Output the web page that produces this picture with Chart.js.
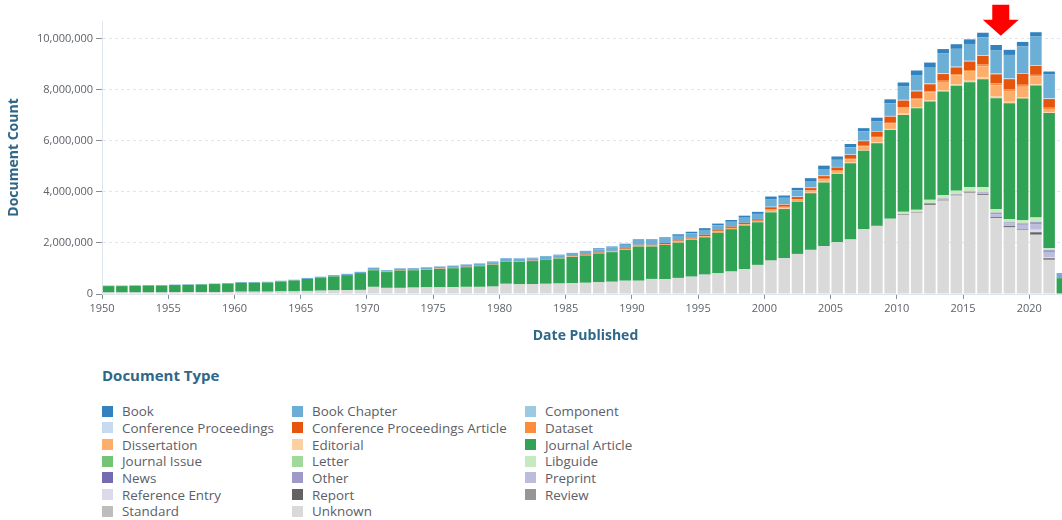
<!DOCTYPE html>
<html>
<head>
    <title>Document Count by Date Published</title>
    <script src="https://cdn.jsdelivr.net/npm/chart.js"></script>
    <style>
        body {
            margin: 0;
            overflow: hidden;
            background: #fff;
            font-family: "Open Sans", sans-serif;
        }

        #chartBox {
            position: relative;
            width: 1069px;
            height: 352px;
        }

        #legend {
            position: absolute;
            left: 102px;
            top: 365px;
        }

        #legend h3 {
            margin: 0;
            font-size: 15px;
            line-height: 21px;
            color: #2e6788;
        }

        #legend .items {
            display: grid;
            grid-template-columns: 190px 233px 200px;
            margin-top: 17px;
        }

        #legend .item {
            display: flex;
            align-items: center;
            height: 16.67px;
            font-size: 13.4px;
            color: #5b6068;
            white-space: nowrap;
        }

        #legend .swatch {
            width: 11px;
            height: 11px;
            margin-right: 9px;
            flex: none;
        }
    </style>
</head>
<body>
    <div id="chartBox">
        <canvas id="docChart" width="1069" height="352"></canvas>
    </div>
    <div id="legend">
        <h3>Document Type</h3>
        <div class="items" id="legendItems"></div>
    </div>

    <script>
        // Years on the axis, and the later span used by the thin series
        var years = [];
        for (var yr = 1950; yr <= 2022; yr++) years.push(yr);
        var recentYears = years.filter(function (y) { return y >= 2000; });

        var docTypes = ['Book', 'Book Chapter', 'Component', 'Conference Proceedings',
            'Conference Proceedings Article', 'Dataset', 'Dissertation', 'Editorial',
            'Journal Article', 'Journal Issue', 'Letter', 'Libguide', 'News', 'Other',
            'Preprint', 'Reference Entry', 'Report', 'Review', 'Standard', 'Unknown'];
        var typeColors = ['#3182bd', '#6baed6', '#9ecae1', '#c6dbef', '#e6550d', '#fd8d3c',
            '#fdae6b', '#fdd0a2', '#31a354', '#74c476', '#a1d99b', '#c7e9c0', '#756bb1',
            '#9e9ac8', '#bcbddc', '#dadaeb', '#636363', '#969696', '#bdbdbd', '#d9d9d9'];

        // Counts in millions, 1950-2022
        var unknown = [
            0.06, 0.06, 0.06, 0.06, 0.06, 0.07, 0.07, 0.07, 0.07, 0.08,
            0.09, 0.09, 0.09, 0.10, 0.10, 0.12, 0.13, 0.14, 0.15, 0.16,
            0.28, 0.24, 0.24, 0.25, 0.26, 0.26, 0.27, 0.28, 0.28, 0.29,
            0.40, 0.38, 0.39, 0.40, 0.41, 0.42, 0.44, 0.46, 0.48, 0.52,
            0.52, 0.59, 0.58, 0.63, 0.68, 0.76, 0.81, 0.88, 0.97, 1.14,
            1.31, 1.41, 1.57, 1.73, 1.88, 2.03, 2.14, 2.54, 2.67, 2.90,
            3.10, 3.18, 3.49, 3.66, 3.86, 3.97, 3.88, 2.97, 2.61, 2.52,
            2.30, 1.33, 0];
        var journalArticle = [
            0.25, 0.25, 0.26, 0.27, 0.27, 0.28, 0.29, 0.30, 0.32, 0.33,
            0.35, 0.35, 0.36, 0.39, 0.43, 0.47, 0.51, 0.55, 0.59, 0.66,
            0.65, 0.62, 0.68, 0.68, 0.69, 0.72, 0.74, 0.77, 0.81, 0.86,
            0.87, 0.88, 0.90, 0.95, 0.98, 1.03, 1.07, 1.13, 1.16, 1.21,
            1.34, 1.27, 1.34, 1.38, 1.44, 1.46, 1.59, 1.66, 1.71, 1.67,
            1.89, 1.92, 2.05, 2.22, 2.49, 2.68, 2.98, 3.07, 3.24, 3.48,
            3.80, 3.98, 3.85, 4.06, 4.11, 4.12, 4.24, 4.35, 4.55, 4.76,
            5.17, 5.30, 0.62];
        var bookChapter = [
            0.02, 0.02, 0.02, 0.02, 0.02, 0.02, 0.02, 0.02, 0.02, 0.02,
            0.03, 0.03, 0.03, 0.03, 0.03, 0.04, 0.04, 0.05, 0.05, 0.05,
            0.07, 0.05, 0.06, 0.06, 0.07, 0.07, 0.07, 0.08, 0.08, 0.08,
            0.09, 0.09, 0.09, 0.10, 0.10, 0.10, 0.11, 0.12, 0.13, 0.14,
            0.16, 0.16, 0.17, 0.18, 0.17, 0.19, 0.19, 0.19, 0.20, 0.21,
            0.30, 0.25, 0.24, 0.26, 0.26, 0.28, 0.28, 0.36, 0.38, 0.49,
            0.52, 0.59, 0.62, 0.79, 0.70, 0.66, 0.70, 0.92, 0.92, 1.04,
            1.12, 0.95, 0.14];
        var book = [
            0, 0, 0, 0, 0, 0, 0, 0, 0, 0,
            0, 0, 0, 0, 0, 0, 0, 0, 0, 0,
            0.01, 0.01, 0.01, 0.01, 0.01, 0.01, 0.01, 0.01, 0.01, 0.02,
            0.02, 0.02, 0.02, 0.02, 0.02, 0.03, 0.03, 0.04, 0.04, 0.04,
            0.05, 0.05, 0.05, 0.06, 0.06, 0.07, 0.07, 0.07, 0.08, 0.08,
            0.10, 0.09, 0.10, 0.11, 0.13, 0.13, 0.13, 0.13, 0.15, 0.16,
            0.16, 0.20, 0.20, 0.16, 0.18, 0.18, 0.18, 0.20, 0.20, 0.18,
            0.17, 0.10, 0.05];
        var confArticle = [
            0, 0, 0, 0, 0, 0, 0, 0, 0, 0,
            0, 0, 0, 0, 0, 0, 0, 0, 0, 0,
            0.01, 0.01, 0.01, 0.01, 0.01, 0.01, 0.01, 0.01, 0.01, 0.01,
            0.01, 0.01, 0.01, 0.01, 0.01, 0.01, 0.02, 0.02, 0.02, 0.03,
            0.03, 0.03, 0.04, 0.04, 0.04, 0.05, 0.05, 0.05, 0.05, 0.06,
            0.09, 0.08, 0.08, 0.09, 0.10, 0.12, 0.15, 0.18, 0.20, 0.24,
            0.25, 0.28, 0.28, 0.26, 0.26, 0.33, 0.34, 0.35, 0.39, 0.43,
            0.35, 0.34, 0];
        var dissertation = [
            0, 0, 0, 0, 0, 0, 0, 0, 0, 0,
            0, 0, 0, 0, 0, 0, 0, 0, 0, 0,
            0.01, 0.01, 0.01, 0.01, 0.01, 0.01, 0.01, 0.01, 0.01, 0.01,
            0.01, 0.01, 0.01, 0.01, 0.02, 0.02, 0.02, 0.02, 0.03, 0.03,
            0.04, 0.04, 0.04, 0.05, 0.05, 0.05, 0.05, 0.05, 0.06, 0.06,
            0.08, 0.06, 0.07, 0.08, 0.10, 0.09, 0.13, 0.15, 0.18, 0.21,
            0.23, 0.29, 0.31, 0.32, 0.35, 0.36, 0.43, 0.44, 0.41, 0.40,
            0.30, 0.13, 0];

        // Thin series, 2000-2022 (millions)
        var dataset = [0.01, 0.01, 0.01, 0.01, 0.02, 0.02, 0.02, 0.02, 0.03, 0.03,
            0.03, 0.04, 0.04, 0.05, 0.05, 0.06, 0.07, 0.08, 0.08, 0.08, 0.07, 0.05, 0];
        var editorial = [0.02, 0.02, 0.02, 0.02, 0.03, 0.02, 0.03, 0.03, 0.04, 0.04,
            0.05, 0.05, 0.05, 0.05, 0.06, 0.06, 0.07, 0.07, 0.06, 0.06, 0.05, 0.03, 0];
        var confProceedings = [0.02, 0.02, 0.02, 0.02, 0.02, 0.02, 0.02, 0.02, 0.02, 0.03,
            0.03, 0.03, 0.03, 0.03, 0.03, 0.03, 0.03, 0.03, 0.03, 0.03, 0.03, 0.03, 0];
        var libguide = [0, 0, 0, 0, 0, 0, 0, 0, 0, 0.05,
            0.08, 0.08, 0.12, 0.12, 0.12, 0.14, 0.18, 0.13, 0.12, 0.13, 0.18, 0.07, 0];
        var other = [0, 0, 0, 0, 0, 0, 0, 0, 0, 0,
            0, 0, 0.05, 0.02, 0, 0, 0.03, 0.06, 0.05, 0.06, 0.10, 0.10, 0];
        var preprint = [0, 0, 0, 0, 0, 0, 0, 0, 0, 0,
            0.02, 0.02, 0, 0.05, 0.04, 0.04, 0.06, 0.12, 0.10, 0.16, 0.20, 0.19, 0];
        var referenceEntry = [0, 0, 0, 0, 0, 0, 0, 0, 0, 0,
            0, 0, 0, 0, 0, 0, 0, 0, 0, 0, 0.10, 0.02, 0];
        var report = [0, 0, 0, 0, 0, 0, 0, 0, 0, 0,
            0.02, 0.02, 0.03, 0.03, 0.03, 0.03, 0.03, 0.04, 0.05, 0.03, 0.09, 0.03, 0];
        var review = [0, 0, 0, 0, 0, 0, 0, 0, 0, 0,
            0, 0, 0, 0, 0, 0, 0, 0, 0, 0, 0.03, 0.05, 0];

        var series = {
            'Book': [years, book],
            'Book Chapter': [years, bookChapter],
            'Component': [[], []],
            'Conference Proceedings': [recentYears, confProceedings],
            'Conference Proceedings Article': [years, confArticle],
            'Dataset': [recentYears, dataset],
            'Dissertation': [years, dissertation],
            'Editorial': [recentYears, editorial],
            'Journal Article': [years, journalArticle],
            'Journal Issue': [[], []],
            'Letter': [[], []],
            'Libguide': [recentYears, libguide],
            'News': [[], []],
            'Other': [recentYears, other],
            'Preprint': [recentYears, preprint],
            'Reference Entry': [recentYears, referenceEntry],
            'Report': [recentYears, report],
            'Review': [recentYears, review],
            'Standard': [[], []],
            'Unknown': [years, unknown]
        };

        var yTicks = [0, 2e6, 4e6, 6e6, 8e6, 10e6];
        var yMax = 10.7e6;
        var arrowYear = 2017;    // arrow points between this year and the next
        var arrowTipValue = 10.12e6;

        // Unknown sits at the bottom of each stack, Book at the top
        var datasets = docTypes.map(function (name, i) {
            var s = series[name];
            return {
                label: name,
                data: s[0].map(function (y, j) { return { x: String(y), y: s[1][j] * 1e6 }; }),
                backgroundColor: typeColors[i],
                borderWidth: 0,
                barPercentage: 0.87,
                categoryPercentage: 1.0
            };
        }).reverse();

        // Red marker arrow above the bars
        var arrowPlugin = {
            id: 'redArrow',
            afterDraw: function (chart) {
                var xs = chart.scales.x, ys = chart.scales.y;
                var i = years.indexOf(arrowYear);
                var cx = (xs.getPixelForValue(i) + xs.getPixelForValue(i + 1)) / 2 - 2;
                var tip = ys.getPixelForValue(arrowTipValue);
                var ctx = chart.ctx;
                ctx.save();
                ctx.fillStyle = '#ff0000';
                ctx.beginPath();
                ctx.moveTo(cx - 8.5, tip - 31);
                ctx.lineTo(cx + 8.5, tip - 31);
                ctx.lineTo(cx + 8.5, tip - 16);
                ctx.lineTo(cx + 18, tip - 16);
                ctx.lineTo(cx, tip);
                ctx.lineTo(cx - 18, tip - 16);
                ctx.lineTo(cx - 8.5, tip - 16);
                ctx.closePath();
                ctx.fill();
                ctx.restore();
            }
        };

        Chart.defaults.font.family = '"Open Sans", sans-serif';

        window.onload = function () {
            var ctx = document.getElementById('docChart').getContext('2d');
            new Chart(ctx, {
                type: 'bar',
                data: {
                    labels: years.map(String),
                    datasets: datasets
                },
                options: {
                    responsive: false,
                    animation: false,
                    layout: { padding: { top: 21, right: 0, bottom: 0, left: 0 } },
                    plugins: {
                        legend: { display: false },
                        tooltip: { enabled: false }
                    },
                    scales: {
                        x: {
                            stacked: true,
                            offset: true,
                            afterFit: function (scale) { scale.height = 58; },
                            grid: {
                                offset: true,
                                drawOnChartArea: false,
                                tickLength: 5,
                                tickColor: function (c) {
                                    return years[c.index] % 5 === 0 ? '#8a8f96' : 'rgba(0,0,0,0)';
                                }
                            },
                            border: { color: '#dfe5ee' },
                            ticks: {
                                autoSkip: false,
                                maxRotation: 0,
                                padding: 3,
                                labelOffset: -6.6,
                                color: '#5d6269',
                                font: { size: 11 },
                                callback: function (v, i) {
                                    return years[i] % 5 === 0 ? String(years[i]) : '';
                                }
                            },
                            title: {
                                display: true,
                                text: 'Date Published',
                                color: '#2e6788',
                                font: { size: 14, weight: 'bold' },
                                padding: { top: 4, bottom: 7.6 }
                            }
                        },
                        y: {
                            stacked: true,
                            min: 0,
                            max: yMax,
                            afterFit: function (scale) { scale.width = 102; },
                            afterBuildTicks: function (scale) {
                                scale.ticks = yTicks.map(function (v) { return { value: v }; });
                            },
                            grid: {
                                color: '#dfe5ee',
                                tickColor: '#8a8f96',
                                tickLength: 6
                            },
                            border: { color: '#dfe5ee', dash: [3, 3] },
                            ticks: {
                                padding: 3,
                                color: '#5d6269',
                                font: { size: 11 },
                                callback: function (v) { return v.toLocaleString('en-US'); }
                            },
                            title: {
                                display: true,
                                text: 'Document Count',
                                color: '#2e6788',
                                font: { size: 14, weight: 'bold' },
                                padding: { top: 5.6, bottom: 0 }
                            }
                        }
                    }
                },
                plugins: [arrowPlugin]
            });

            // Legend, three columns in the same order as the types list
            var box = document.getElementById('legendItems');
            docTypes.forEach(function (name, i) {
                var item = document.createElement('div');
                item.className = 'item';
                var sw = document.createElement('span');
                sw.className = 'swatch';
                sw.style.background = typeColors[i];
                item.appendChild(sw);
                item.appendChild(document.createTextNode(name));
                box.appendChild(item);
            });
        };
    </script>
</body>
</html>
